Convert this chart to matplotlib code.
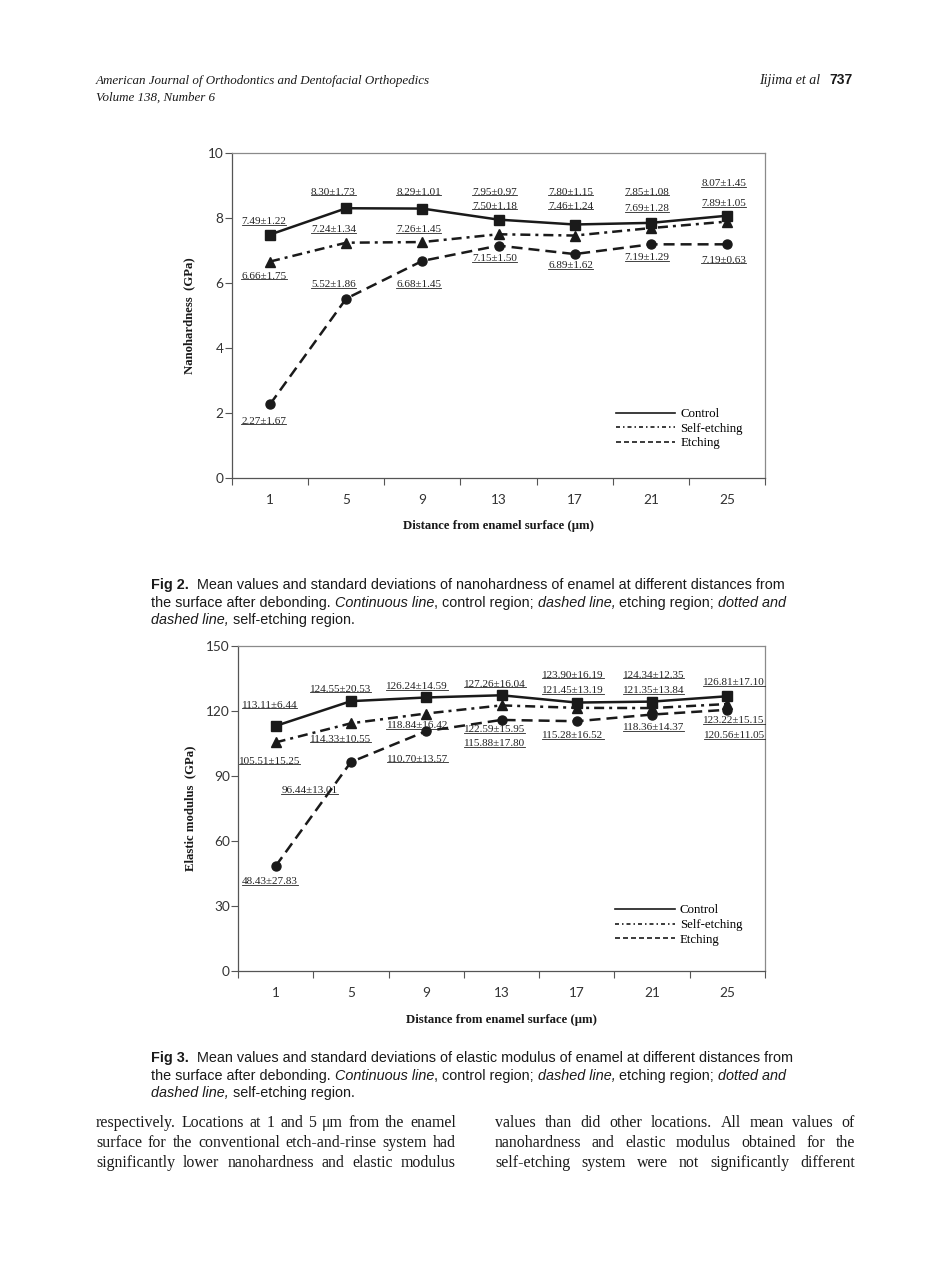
import numpy as np
import matplotlib
matplotlib.use('Agg')
import matplotlib.pyplot as plt
from matplotlib.lines import Line2D

W, H = 950, 1272

# distance from enamel surface (um)
distances = ['1', '5', '9', '13', '17', '21', '25']

# Fig 2: nanohardness (GPa), mean and sd
hard_control = [7.49, 8.30, 8.29, 7.95, 7.80, 7.85, 8.07]
hard_control_sd = [1.22, 1.73, 1.01, 0.97, 1.15, 1.08, 1.45]
hard_self = [6.66, 7.24, 7.26, 7.50, 7.46, 7.69, 7.89]
hard_self_sd = [1.75, 1.34, 1.45, 1.18, 1.24, 1.28, 1.05]
hard_etch = [2.27, 5.52, 6.68, 7.15, 6.89, 7.19, 7.19]
hard_etch_sd = [1.67, 1.86, 1.45, 1.50, 1.62, 1.29, 0.63]

# Fig 3: elastic modulus (GPa), mean and sd
mod_control = [113.11, 124.55, 126.24, 127.26, 123.90, 124.34, 126.81]
mod_control_sd = [6.44, 20.53, 14.59, 16.04, 16.19, 12.35, 17.10]
mod_self = [105.51, 114.33, 118.84, 122.59, 121.45, 121.35, 123.22]
mod_self_sd = [15.25, 10.55, 16.42, 15.95, 13.19, 13.84, 15.15]
mod_etch = [48.43, 96.44, 110.70, 115.88, 115.28, 118.36, 120.56]
mod_etch_sd = [27.83, 13.01, 13.57, 17.80, 16.52, 14.37, 11.05]

# where the value labels sit (category index, data units)
hard_lab_x = [-0.08, 0.83, 1.95, 2.95, 3.95, 4.95, 5.96]
hard_lab_y = [[7.88, 8.79, 8.79, 8.79, 8.79, 8.79, 9.06],
              [6.21, 7.64, 7.64, 8.36, 8.36, 8.28, 8.44],
              [1.75, 5.95, 5.95, 6.74, 6.53, 6.77, 6.70]]
mod_lab_x = [-0.08, 0.86, 1.88, 2.91, 3.95, 5.02, 6.09]
mod_lab_x_etch = [-0.08, 0.45, 1.88, 2.91, 3.95, 5.02, 6.09]
mod_lab_y = [[122.6, 130.0, 131.2, 132.3, 136.5, 136.5, 133.1],
             [96.9, 106.9, 113.1, 111.5, 129.5, 129.5, 115.4],
             [41.1, 83.1, 97.7, 104.9, 108.5, 112.3, 108.5]]

SERIF = 'Liberation Serif'
SANS = 'Liberation Sans'
TICKF = 'Lato'
INK = '#1a1a1a'

fig = plt.figure(figsize=(W/100, H/100), dpi=100)
fig.patch.set_facecolor('white')
renderer = fig.canvas.get_renderer()

def put(x, y, s, **kw):
    # x, y in page pixels, y from the top
    return fig.text(x/W, 1-y/H, s, **kw)

def width_of(t):
    return t.get_window_extent(renderer).width

def space_w(**kw):
    a = put(0, -50, 'x x', **kw); b = put(0, -50, 'xx', **kw)
    w = width_of(a) - width_of(b)
    a.remove(); b.remove()
    return w

def place_segments(segs, x0, y, family, size):
    x = x0
    for i, (txt, style, weight) in enumerate(segs):
        if i > 0 and txt[0] not in ',.;':
            x += space_w(family=family, size=size, style=style, weight=weight)
        t = put(x, y, txt, family=family, size=size, style=style, weight=weight,
                va='baseline', color=INK)
        x += width_of(t)

def justify(line, x0, x1, y, family, size):
    words = line.split()
    ts = [put(x0, y, w, family=family, size=size, va='baseline', color=INK) for w in words]
    ws = [width_of(t) for t in ts]
    gap = (x1 - x0 - sum(ws)) / (len(words) - 1)
    x = x0
    for t, w in zip(ts, ws):
        t.set_x(x/W)
        x += w + gap

value_labels = []

def panel(ax, series, sds, lab_x, lab_y, ylim, yticks, ylabel, legend_anchor):
    x = np.arange(len(distances))
    styles = [dict(ls='-', marker='s', ms=6.5),
              dict(dashes=(4, 2, 1.2, 2), marker='^', ms=6.5),
              dict(dashes=(4.4, 2.4), marker='o', ms=6.5)]
    for k, (m, st) in enumerate(zip(series, styles)):
        ax.plot(x, m, color=INK, lw=1.8, zorder=3, **st)
        lx = lab_x[k] if isinstance(lab_x[0], list) else lab_x
        for i in range(len(m)):
            t = ax.text(lx[i], lab_y[k][i], f'{m[i]:.2f}±{sds[k][i]:.2f}',
                        ha='center', va='center', family=SERIF, size=8,
                        color='#222222', zorder=2)
            value_labels.append(t)
    ax.set_xlim(-0.5, len(distances) - 0.5)
    ax.set_ylim(*ylim)
    ax.set_yticks(yticks)
    ax.set_xticks(x)
    ax.set_xticklabels(distances)
    ax.set_xticks(np.arange(len(distances) + 1) - 0.5, minor=True)
    ax.tick_params(axis='x', which='major', length=0, pad=11.5)
    ax.tick_params(axis='x', which='minor', length=5, direction='out', color='#555555', width=0.8)
    ax.tick_params(axis='y', length=5, direction='out', color='#555555', width=0.8, pad=1)
    for lab in ax.get_xticklabels() + ax.get_yticklabels():
        lab.set_family(TICKF)
        lab.set_size(9.8)
        lab.set_color('#333333')
    for side in ['left', 'bottom']:
        ax.spines[side].set_color('#555555')
        ax.spines[side].set_linewidth(0.9)
    for side in ['top', 'right']:
        ax.spines[side].set_color('#8a8a8a')
        ax.spines[side].set_linewidth(0.9)
    ax.set_ylabel(ylabel, family=SERIF, weight='bold', size=9.2, color=INK)
    ax.set_xlabel('Distance from enamel surface (μm)', family=SERIF, weight='bold',
                  size=9.2, color=INK, va='top')
    handles = [Line2D([], [], color=INK, lw=1.2, ls='-'),
               Line2D([], [], color=INK, lw=1.2, dashes=(2.4, 1.8, 0.9, 1.8)),
               Line2D([], [], color=INK, lw=1.2, dashes=(3, 1.8))]
    ax.legend(handles, ['Control', 'Self-etching', 'Etching'], loc='upper left',
              bbox_to_anchor=legend_anchor, frameon=False, handlelength=4.6,
              handletextpad=0.4, labelspacing=0.2, borderpad=0, borderaxespad=0,
              prop=dict(family=SERIF, size=9.3))

ax1 = fig.add_axes([232/W, 1-478/H, 533/W, 325/H])
panel(ax1, [hard_control, hard_self, hard_etch],
      [hard_control_sd, hard_self_sd, hard_etch_sd],
      hard_lab_x, hard_lab_y, (0, 10), [0, 2, 4, 6, 8, 10],
      'Nanohardness  (GPa)', (0.72, 0.215))
ax1.yaxis.set_label_coords(-0.068, 0.5)
ax1.xaxis.set_label_coords(0.5, -0.128)

ax2 = fig.add_axes([238/W, 1-971/H, 527/W, 325/H])
panel(ax2, [mod_control, mod_self, mod_etch],
      [mod_control_sd, mod_self_sd, mod_etch_sd],
      [mod_lab_x, mod_lab_x, mod_lab_x_etch], mod_lab_y, (0, 150),
      [0, 30, 60, 90, 120, 150], 'Elastic modulus  (GPa)', (0.716, 0.205))
ax2.yaxis.set_label_coords(-0.08, 0.5)
ax2.xaxis.set_label_coords(0.5, -0.133)

# underline the value labels
for t in value_labels:
    bb = t.get_window_extent(renderer)
    yy = bb.y0 + 1.4
    fig.add_artist(Line2D([bb.x0/W, bb.x1/W], [yy/H, yy/H], transform=fig.transFigure,
                          lw=0.6, color='#222222'))

# running head
put(96, 84, 'American Journal of Orthodontics and Dentofacial Orthopedics',
    family=SERIF, style='italic', size=9.4, va='baseline', color=INK)
put(96, 101, 'Volume 138, Number 6', family=SERIF, style='italic', size=9.4,
    va='baseline', color=INK)
put(820, 84, 'Iijima et al', family=SERIF, style='italic', size=10, ha='right',
    va='baseline', color=INK)
put(853, 84, '737', family=SANS, weight='bold', size=10, ha='right', va='baseline', color=INK)

# captions
cap = 10.35
for y0, fig_no, what in [(589, 'Fig 2.', 'nanohardness'), (1062, 'Fig 3.', 'elastic modulus')]:
    place_segments([(fig_no, 'normal', 'bold'),
                    (f' Mean values and standard deviations of {what} of enamel at different distances from',
                     'normal', 'normal')], 151, y0, SANS, cap)
    place_segments([('the surface after debonding.', 'normal', 'normal'),
                    ('Continuous line', 'italic', 'normal'),
                    (', control region;', 'normal', 'normal'),
                    ('dashed line,', 'italic', 'normal'),
                    ('etching region;', 'normal', 'normal'),
                    ('dotted and', 'italic', 'normal')], 151, y0 + 18, SANS, cap)
    place_segments([('dashed line,', 'italic', 'normal'),
                    ('self-etching region.', 'normal', 'normal')], 151, y0 + 35, SANS, cap)

# body text, two justified columns
left_col = ['respectively. Locations at 1 and 5 μm from the enamel',
            'surface for the conventional etch-and-rinse system had',
            'significantly lower nanohardness and elastic modulus']
right_col = ['values than did other locations. All mean values of',
             'nanohardness and elastic modulus obtained for the',
             'self-etching system were not significantly different']
for i, (l, r) in enumerate(zip(left_col, right_col)):
    justify(l, 96, 456, 1127 + 20*i, SERIF, 11.4)
    justify(r, 495, 855, 1127 + 20*i, SERIF, 11.4)

fig.savefig('out.png', dpi=100)
